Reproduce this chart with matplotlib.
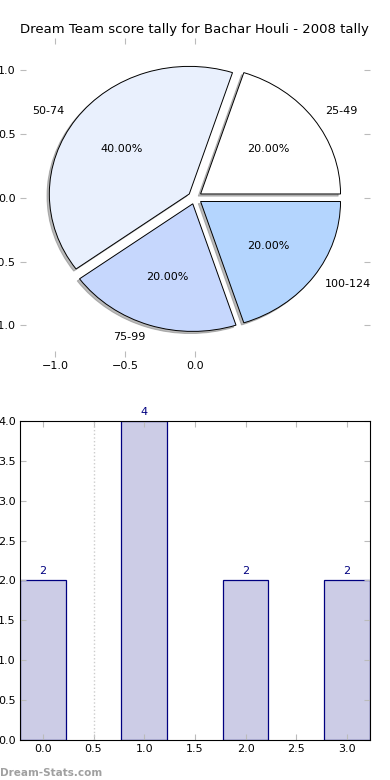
import matplotlib.pyplot as plt

# Data
labels = ["25-49", "50-74", "75-99", "100-124"]
shares = [20, 40, 20, 20]
pie_colors = ["#ffffff", "#e9f0fd", "#c6d7fd", "#b4d5fe"]

bar_pos = [0, 1, 2, 3]
bar_vals = [2, 4, 2, 2]

fig = plt.figure(figsize=(3.9, 7.8), dpi=100)

# Pie
ax1 = fig.add_axes([0.0513, 0.542, 0.897, 0.409])
wedges, texts, autotexts = ax1.pie(
    shares, labels=labels, colors=pie_colors, explode=[0.05] * 4,
    autopct="%1.2f%%", shadow=dict(ox=-0.012, oy=-0.012, color="#777777"),
    startangle=0,
    wedgeprops=dict(edgecolor="black", linewidth=0.7),
    textprops=dict(fontsize=8), frame=True)
ax1.set_aspect("auto")
ax1.set_xlim(-1.25, 1.25)
ax1.set_ylim(-1.25, 1.25)
ax1.set_xticks([-1.0, -0.5, 0.0])
ax1.set_yticks([-1.0, -0.5, 0.0, 0.5, 1.0])
ax1.tick_params(direction="in", length=4, color="#bbbbbb", labelsize=8,
                top=True, right=True, pad=3)
for s in ax1.spines.values():
    s.set_visible(False)
ax1.set_title("Dream Team score tally for Bachar Houli - 2008 tally",
              fontsize=9.5, pad=4)

# Bars
ax2 = fig.add_axes([0.0513, 0.0513, 0.897, 0.409])
bars = ax2.bar(bar_pos, bar_vals, width=0.45, color="#ccccE6",
               edgecolor="#000080", linewidth=0.9)
for b, v in zip(bars, bar_vals):
    ax2.text(b.get_x() + b.get_width() / 2, v + 0.05, str(v),
             ha="center", va="bottom", fontsize=8, color="#000080")
ax2.axvline(0.5, color="#cccccc", linestyle=":", linewidth=1)
ax2.set_xlim(-0.225, 3.225)
ax2.set_ylim(0, 4)
ax2.set_xticks([0.0, 0.5, 1.0, 1.5, 2.0, 2.5, 3.0])
ax2.set_yticks([0.0, 0.5, 1.0, 1.5, 2.0, 2.5, 3.0, 3.5, 4.0])
ax2.tick_params(direction="in", length=4, color="#bbbbbb", labelsize=8,
                top=True, right=True, pad=3)

fig.text(0.0, 0.003, "Dream-Stats.com", fontsize=7.5, fontweight="bold",
         color="#a0a0a0", ha="left", va="bottom")

fig.savefig("out.png", dpi=100)
